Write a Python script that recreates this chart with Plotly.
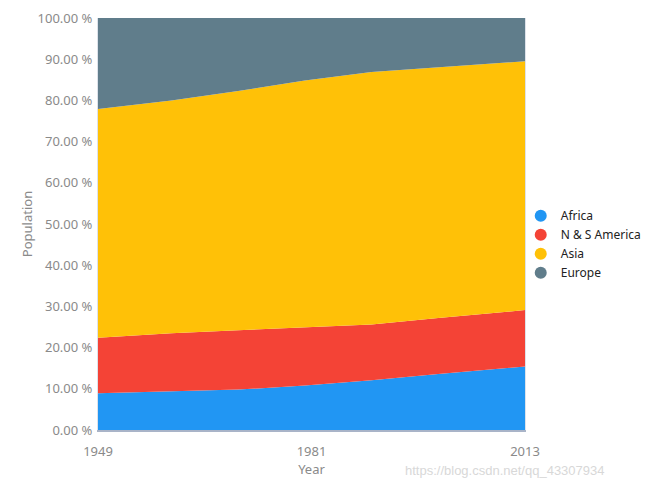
import plotly.graph_objects as go

years = [1949, 1960, 1970, 1980, 1990, 2000, 2013]
africa = [8.9, 9.3, 9.8, 10.8, 12.1, 13.6, 15.4]
americas = [13.5, 14.2, 14.4, 14.1, 13.5, 13.6, 13.7]
asia = [55.5, 56.5, 58.1, 59.9, 61.3, 60.9, 60.4]
europe = [22.1, 20.0, 17.7, 15.2, 13.1, 11.9, 10.5]

names = ["Africa", "N & S America", "Asia", "Europe"]
colors = ["#2196F3", "#F44336", "#FFC107", "#607D8B"]
series = [africa, americas, asia, europe]

fig = go.Figure()
for n, c, s in zip(names, colors, series):
    fig.add_trace(go.Scatter(
        x=years, y=s, name=n, mode="lines", stackgroup="one", groupnorm="percent",
        line=dict(width=0, color=c), fillcolor=c, showlegend=False, hoverinfo="x+y+name"))
for n, c in zip(names, colors):
    fig.add_trace(go.Scatter(
        x=[None], y=[None], name=n, mode="markers",
        marker=dict(symbol="circle", size=12, color=c), showlegend=True))

tick_font = dict(family="Noto Sans, Open Sans, sans-serif", size=13, color="#8a8a8a")
fig.update_layout(
    width=649, height=481,
    margin=dict(l=90, r=132, t=10, b=59, autoexpand=False),
    paper_bgcolor="white", plot_bgcolor="white",
    font=dict(family="Noto Sans, Open Sans, sans-serif", size=12, color="#333"),
    legend=dict(x=0.99, y=0.451, xanchor="left", yanchor="middle",
                traceorder="normal", bgcolor="rgba(0,0,0,0)",
                font=dict(size=12, color="#222"), itemsizing="constant",
                tracegroupgap=0),
    xaxis=dict(range=[1949, 2013], tickvals=[1949, 1981, 2013],
               ticktext=["1949", "1981", "2013"], showgrid=False,
               showline=True, linecolor="#a9b4c8", linewidth=1.5, mirror=False,
               ticks="", tickfont=tick_font, ticklabelstandoff=9, automargin=False,
               title=dict(text="Year", font=dict(size=13, color="#8a8a8a"), standoff=0)),
    yaxis=dict(range=[0, 100], dtick=10, tickformat=".2f", ticksuffix=" %",
               showgrid=False, showline=True, linecolor="#dde2ea", mirror=True,
               ticks="", tickfont=tick_font, automargin=False, ticklabelstandoff=2,
               title=dict(text="Population", font=dict(size=13, color="#8a8a8a"), standoff=1)),
    annotations=[dict(text="https://blog.csdn.net/qq_43307934", x=1.0, y=-0.075,
                      xref="paper", yref="paper", xanchor="left", yanchor="top",
                      xshift=-122, showarrow=False,
                      font=dict(family="Liberation Sans, Arial, sans-serif", size=13, color="#d8d8d8"))],
)

fig.write_html("out.html")
